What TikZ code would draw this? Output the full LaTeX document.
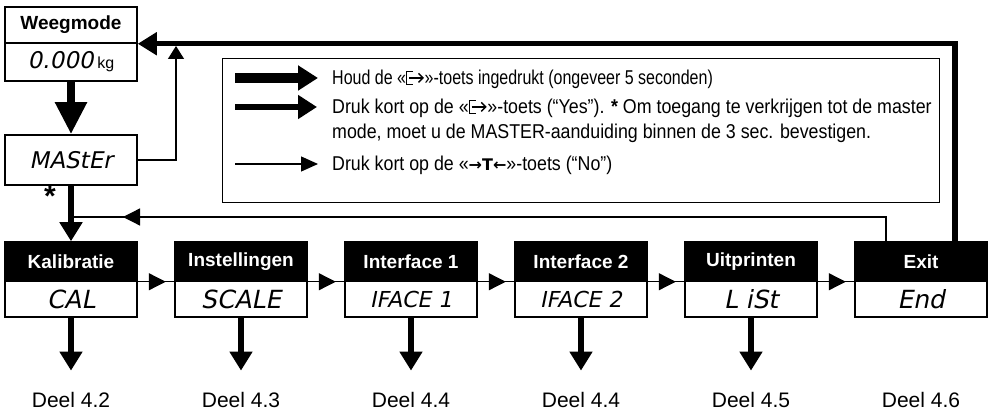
\documentclass[tikz,border=0pt]{standalone}
\usepackage{fontspec}
\setmainfont{Liberation Sans}
\newfontfamily\legfont{Liberation Sans}[FakeStretch=0.89]
\newfontfamily\legfontn{Liberation Sans}[FakeStretch=0.8]
\newfontfamily\lcdfont{DejaVu Sans}[FakeSlant=0.2]
\newfontfamily\symfont{DejaVu Sans}
\usetikzlibrary{arrows.meta,decorations.markings,calc}
\newcommand{\keysym}{\tikz[baseline=0pt,x=1pt,y=1pt]{\draw[line width=1.4pt] (7,13.5)--(0.7,13.5)--(0.7,0.7)--(7,0.7); \draw[line width=1.4pt,-{Straight Barb[length=4.5pt,width=9pt]}] (3,7.1)--(18,7.1);}}
\begin{document}
\begin{tikzpicture}[x=1pt,y=-1pt,
  hdrB/.style={fill=black,draw=black,line width=1.5pt,text=white,minimum width=132pt,minimum height=39pt,inner sep=0pt,font=\bfseries\fontsize{19}{20}\selectfont},
  hdrW/.style={fill=white,draw=black,line width=1.5pt,text=black,minimum width=132pt,minimum height=36pt,inner sep=0pt,font=\bfseries\fontsize{19}{20}\selectfont},
  disp/.style={fill=white,draw=black,line width=1.5pt,minimum width=132pt,minimum height=36pt,inner sep=0pt,font=\lcdfont\fontsize{25}{25}\selectfont},
  lcdsmall/.style={font=\lcdfont\fontsize{22}{22}\selectfont},
  holdline/.style={line width=8pt,-{Triangle[length=32pt,width=30pt]}},
  yesline/.style={line width=5.5pt,-{Triangle[length=19pt,width=22pt]}},
  noline/.style={line width=1.3pt},
  midtip/.style={postaction={decorate},decoration={markings,mark=at position #1 with {\arrow{Triangle[length=17pt,width=17pt]}}}},
  deel/.style={inner sep=0pt,font=\fontsize{21}{21}\selectfont},
  legtext/.style={anchor=base west,inner sep=0pt,font=\legfont\fontsize{20}{20}\selectfont}
]
\useasboundingbox (0,0) rectangle (988,411);

% top boxes
\node[hdrW] (weegH) at (71,25) {Weegmode};
\node[disp,minimum height=38pt,font=\lcdfont\fontsize{23}{23}\selectfont] (weegD) at (71,62) {0.000\,{\rmfamily\fontsize{16}{16}\selectfont kg}};
\node[disp,minimum height=50pt,font=\lcdfont\fontsize{23}{23}\selectfont] (master) at (71,160) {MAStEr};

% bottom boxes
\node[hdrB] (kalH) at (71,261.5) {Kalibratie};
\node[disp] (kalD) at (71,299) {CAL};
\node[hdrB] (instH) at (241,261.5) {Instellingen};
\node[disp] (instD) at (241,299) {SCALE};
\node[hdrB] (ifaH) at (411,261.5) {Interface 1};
\node[disp,lcdsmall] (ifaD) at (411,299) {IFACE 1};
\node[hdrB] (ifbH) at (581,261.5) {Interface 2};
\node[disp,lcdsmall] (ifbD) at (581,299) {IFACE 2};
\node[hdrB] (uitH) at (751,261.5) {Uitprinten};
\node[disp] (uitD) at (751,299) {L iSt};
\node[hdrB] (exitH) at (921,261.5) {Exit};
\node[disp] (exitD) at (921,299) {End};

% Deel labels
\node[deel] (d1) at (71,399.5) {Deel 4.2};
\node[deel] (d2) at (241,399.5) {Deel 4.3};
\node[deel] (d3) at (411,399.5) {Deel 4.4};
\node[deel] (d4) at (581,399.5) {Deel 4.4};
\node[deel] (d5) at (751,399.5) {Deel 4.5};
\node[deel] (d6) at (921,399.5) {Deel 4.6};

% legend
\node[draw,line width=1.2pt,minimum width=717pt,minimum height=144pt,anchor=north west,inner sep=0pt] (legend) at (222,58) {};
\coordinate (l1a) at (235,78); \coordinate (l1b) at (318,78);
\coordinate (l2a) at (235,107); \coordinate (l2b) at (317,107);
\coordinate (l3a) at (235,164); \coordinate (l3b) at (318,164);
\draw[line width=10pt,-{Triangle[length=20pt,width=24pt]}] (l1a) -- (l1b);
\draw[line width=5.5pt,-{Triangle[length=19pt,width=23pt]}] (l2a) -- (l2b);
\draw[noline,-{Triangle[length=17pt,width=15pt]}] (l3a) -- (l3b);
\node[legtext,font=\legfontn\fontsize{20}{20}\selectfont] (t1) at (332,85) {Houd de «\keysym»-toets ingedrukt (ongeveer 5 seconden)};
\node[legtext] (t2) at (332,114) {Druk kort op de «\keysym»-toets (“Yes”). \textbf{*} Om toegang te verkrijgen tot de master};
\node[legtext] (t3) at (332,139) {mode, moet u de MASTER-aanduiding binnen de 3 sec. bevestigen.};
\node[legtext] (t4) at (332,171) {Druk kort op de «{\symfont\bfseries\fontsize{16}{16}\selectfont →T←}»-toets (“No”)};

% connectors
\draw[holdline] (weegD.south) -- (master.north);
\coordinate (upend) at (176,46);
\draw[noline,-{Triangle[length=13pt,width=16pt]}] (master.east) -| (upend);
\draw[yesline] (master.south) -- (kalH.north);
\node[font=\bfseries\fontsize{30}{30}\selectfont,inner sep=0pt,anchor=north] (star) at (50,186) {*};
\draw[yesline] ([xshift=34pt]exitH.north) |- (weegH.south east);
\coordinate (fbend) at (71,217);
\draw[noline,midtip=-52pt] ([xshift=-35pt]exitH.north) |- (fbend);

\draw[noline,midtip=28pt] (kalH.south east) -- (instH.south west);
\draw[noline,midtip=28pt] (instH.south east) -- (ifaH.south west);
\draw[noline,midtip=28pt] (ifaH.south east) -- (ifbH.south west);
\draw[noline,midtip=28pt] (ifbH.south east) -- (uitH.south west);
\draw[noline,midtip=28pt] (uitH.south east) -- (exitH.south west);

\draw[yesline] (kalD.south) -- ([yshift=21pt]d1.north);
\draw[yesline] (instD.south) -- ([yshift=21pt]d2.north);
\draw[yesline] (ifaD.south) -- ([yshift=21pt]d3.north);
\draw[yesline] (ifbD.south) -- ([yshift=21pt]d4.north);
\draw[yesline] (uitD.south) -- ([yshift=21pt]d5.north);
\end{tikzpicture}
\end{document}
